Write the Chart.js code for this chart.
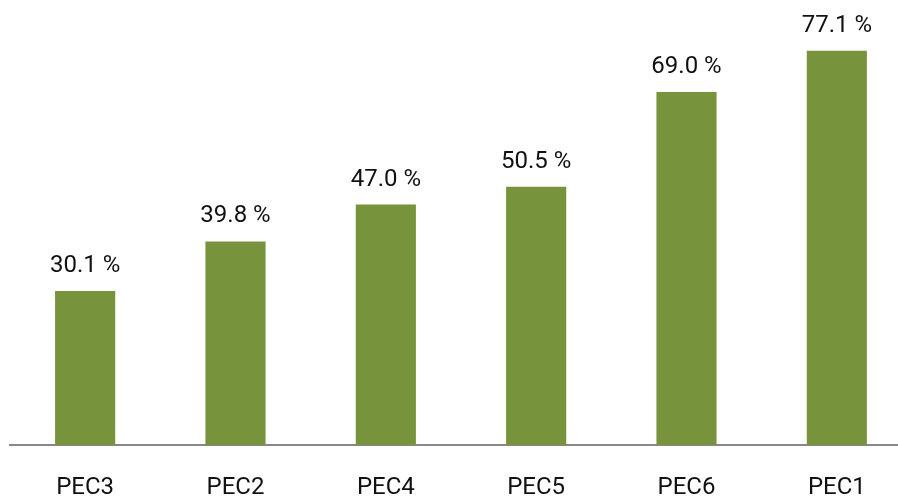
<!DOCTYPE html>
<html>
<head>
<meta charset="utf-8">
<script src="https://cdn.jsdelivr.net/npm/chart.js@4/dist/chart.umd.min.js"></script>
<style>
  html, body { margin: 0; padding: 0; background: #fff; overflow: hidden; }
  #wrap { width: 912px; height: 501px; }
</style>
</head>
<body>
<div id="wrap"><canvas id="myChart" width="912" height="501"></canvas></div>
<script>
var categories = ["PEC3", "PEC2", "PEC4", "PEC5", "PEC6", "PEC1"];
var werte = [30.1, 39.8, 47.0, 50.5, 69.0, 77.1];
var beschriftung = ["30.1 %", "39.8 %", "47.0 %", "50.5 %", "69.0 %", "77.1 %"];

// Werte ueber den Balken schreiben
var wertLabels = {
  id: 'wertLabels',
  afterDatasetsDraw: function(chart) {
    var ctx = chart.ctx;
    var meta = chart.getDatasetMeta(0);
    ctx.save();
    ctx.font = '24px Roboto';
    ctx.fillStyle = '#111111';
    ctx.textAlign = 'center';
    ctx.textBaseline = 'alphabetic';
    meta.data.forEach(function(bar, i) {
      ctx.fillText(beschriftung[i], bar.x, bar.y - 19);
    });
    ctx.restore();
  }
};

let myChart = document.querySelector('#myChart').getContext('2d');

window.balken = new Chart(myChart, {
  type: 'bar',
  data: {
    labels: categories,
    datasets: [{
      data: werte,
      backgroundColor: '#77933C',
      barPercentage: 0.4,
      categoryPercentage: 1.0
    }]
  },
  options: {
    responsive: false,
    animation: false,
    layout: { padding: { left: 10, right: 0, top: 0, bottom: 0 } },
    plugins: {
      legend: { display: false },
      tooltip: { enabled: false }
    },
    scales: {
      x: {
        grid: { display: false, drawTicks: false },
        border: { display: true, color: '#888888', width: 2 },
        ticks: {
          color: '#111111',
          font: { family: 'Roboto', size: 24 },
          padding: 29,
          maxRotation: 0
        },
        afterFit: function(scale) { scale.height = 56; }
      },
      y: {
        display: false,
        min: 0,
        max: 87
      }
    }
  },
  plugins: [wertLabels]
});
</script>
</body>
</html>
